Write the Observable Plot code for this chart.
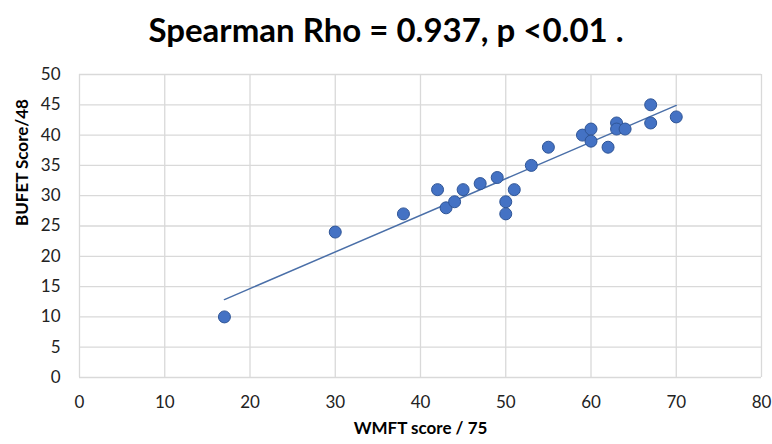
<!DOCTYPE html>
<html>
<head>
<meta charset="utf-8">
<script src="https://cdn.jsdelivr.net/npm/d3@7"></script>
<script src="https://cdn.jsdelivr.net/npm/@observablehq/plot@0.6"></script>
<style>
  html, body { margin: 0; padding: 0; background: #fff; }
  #title { width: 772px; height: 58px; text-align: center; font-family: Lato, "Open Sans", sans-serif; font-weight: 700; font-size: 33px; line-height: 58px; color: #000; }
  #chart svg { display: block; }
</style>
</head>
<body>
<div id="title">Spearman Rho = 0.937, p &lt;0.01 .</div>
<div id="chart"></div>
<script>
const wmft  = [17, 30, 38, 42, 43, 44, 45, 47, 49, 50, 50, 51, 53, 55, 59, 60, 60, 62, 63, 63, 64, 67, 67, 70];
const bufet = [10, 24, 27, 31, 28, 29, 31, 32, 33, 29, 27, 31, 35, 38, 40, 41, 39, 38, 42, 41, 41, 45, 42, 43];
const xTicks = [0, 10, 20, 30, 40, 50, 60, 70, 80];
const yTicks = [0, 5, 10, 15, 20, 25, 30, 35, 40, 45, 50];
const xLabel = "WMFT score / 75";
const yLabel = "BUFET Score/48";

const data = wmft.map((x, i) => ({x, y: bufet[i]}));
const font = "Lato, 'Open Sans', sans-serif";

const chart = Plot.plot({
  width: 772,
  height: 386,
  marginTop: 16,
  marginBottom: 67,
  marginLeft: 79,
  marginRight: 11,
  style: {fontFamily: font, fontSize: "16px", color: "#222", background: "#fff"},
  x: {domain: [0, 80], ticks: xTicks, tickSize: 0, tickPadding: 18, label: null},
  y: {domain: [0, 50], ticks: yTicks, tickSize: 0, tickPadding: 19, label: null},
  marks: [
    Plot.gridX(xTicks, {stroke: "#d9d9d9", strokeOpacity: 1, strokeWidth: 1.3}),
    Plot.gridY(yTicks, {stroke: "#d9d9d9", strokeOpacity: 1, strokeWidth: 1.3}),
    Plot.axisX({ticks: xTicks, tickSize: 0, tickPadding: 18, fontSize: 17}),
    Plot.axisY({ticks: yTicks, tickSize: 0, tickPadding: 19, fontSize: 17}),
    Plot.linearRegressionY(data, {x: "x", y: "y", ci: 0, stroke: "#4a6fa8", strokeWidth: 1.5}),
    Plot.dot(data, {x: "x", y: "y", r: 6, fill: "#4472c4", stroke: "#2f5597", strokeWidth: 1}),
    Plot.text([yLabel], {frameAnchor: "left", dx: -57, rotate: -90, fontSize: 17, fontWeight: "bold", fill: "#000", fontFamily: font}),
    Plot.text([xLabel], {frameAnchor: "bottom", dy: 56, fontSize: 17, fontWeight: "bold", fill: "#000", fontFamily: font})
  ]
});
document.getElementById("chart").appendChild(chart);
</script>
</body>
</html>
